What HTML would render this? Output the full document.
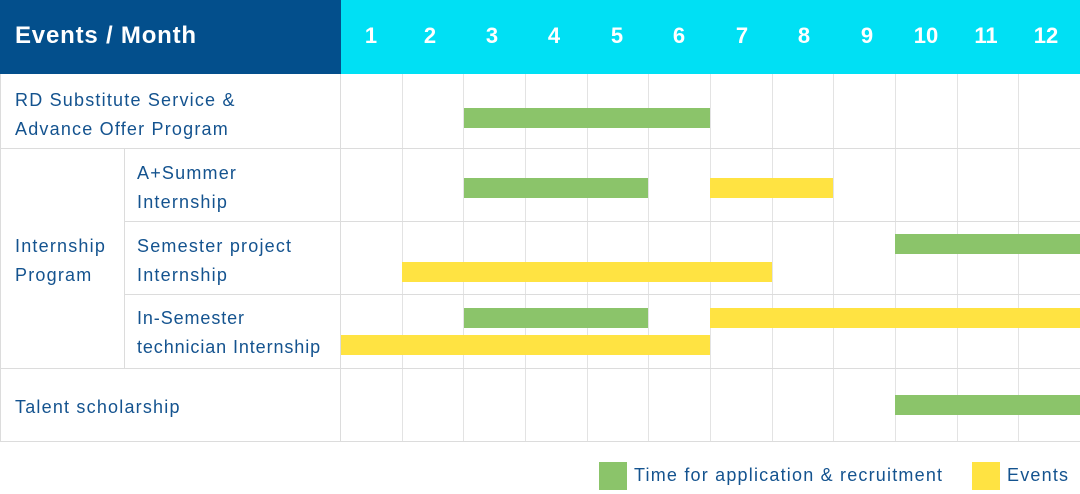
<!DOCTYPE html><html><head><style>
body{margin:0;width:1080px;height:494px;background:#fff;position:relative;overflow:hidden;font-family:"Liberation Sans",sans-serif}
div{position:absolute;box-sizing:border-box}
.t{color:#14538f;font-size:18px;line-height:29px;letter-spacing:1.2px;white-space:nowrap}
.m{color:#fff;font-size:22px;font-weight:bold;top:23px;width:62px;text-align:center}
.vl{width:1px;background:#e3e3e3;top:74px;height:367px}
.hl{height:1px;background:#dcdcdc}
.g{background:#8bc46a;height:20px}
.y{background:#ffe342;height:20px}
</style></head><body>
<div style="left:0;top:0;width:341px;height:74px;background:#034f8c"></div>
<div style="left:341px;top:0;width:739px;height:74px;background:#00e0f4"></div>
<div style="left:15px;top:22px;color:#fff;font-size:24px;font-weight:bold;letter-spacing:0.8px">Events / Month</div>
<div class="m" style="left:340px">1</div><div class="m" style="left:399px">2</div><div class="m" style="left:461px">3</div><div class="m" style="left:523px">4</div><div class="m" style="left:586px">5</div><div class="m" style="left:648px">6</div><div class="m" style="left:711px">7</div><div class="m" style="left:773px">8</div><div class="m" style="left:836px">9</div><div class="m" style="left:895px">10</div><div class="m" style="left:955px">11</div><div class="m" style="left:1015px">12</div>
<div style="left:0;top:74px;width:1px;height:368px;background:#dcdcdc"></div>
<div class="vl" style="left:340px;background:#dcdcdc"></div>
<div class="vl" style="left:402px"></div><div class="vl" style="left:463px"></div><div class="vl" style="left:525px"></div><div class="vl" style="left:587px"></div><div class="vl" style="left:648px"></div><div class="vl" style="left:710px"></div><div class="vl" style="left:772px"></div><div class="vl" style="left:833px"></div><div class="vl" style="left:895px"></div><div class="vl" style="left:957px"></div><div class="vl" style="left:1018px"></div>
<div style="left:124px;top:148px;width:1px;height:220px;background:#dcdcdc"></div>
<div class="hl" style="left:0;top:148px;width:1080px"></div>
<div class="hl" style="left:124px;top:221px;width:956px"></div>
<div class="hl" style="left:124px;top:294px;width:956px"></div>
<div class="hl" style="left:0;top:368px;width:1080px"></div>
<div class="hl" style="left:0;top:441px;width:1080px"></div>
<div class="t" style="left:15px;top:86px">RD Substitute Service &amp;<br>Advance Offer Program</div>
<div class="t" style="left:15px;top:232px">Internship<br>Program</div>
<div class="t" style="left:137px;top:159px">A+Summer<br>Internship</div>
<div class="t" style="left:137px;top:232px">Semester project<br>Internship</div>
<div class="t" style="left:137px;top:304px;letter-spacing:0.9px">In-Semester<br>technician Internship</div>
<div class="t" style="left:15px;top:393px">Talent scholarship</div>
<div class="g" style="left:464px;top:108px;width:246px"></div>
<div class="g" style="left:464px;top:178px;width:184px"></div>
<div class="y" style="left:710px;top:178px;width:123px"></div>
<div class="g" style="left:895px;top:234px;width:185px"></div>
<div class="y" style="left:402px;top:262px;width:370px"></div>
<div class="g" style="left:464px;top:308px;width:184px"></div>
<div class="y" style="left:710px;top:308px;width:370px"></div>
<div class="y" style="left:341px;top:335px;width:369px"></div>
<div class="g" style="left:895px;top:395px;width:185px"></div>
<div class="g" style="left:599px;top:462px;width:28px;height:28px"></div>
<div class="t" style="left:634px;top:461px">Time for application &amp; recruitment</div>
<div class="y" style="left:972px;top:462px;width:28px;height:28px"></div>
<div class="t" style="left:1007px;top:461px">Events</div>
</body></html>
